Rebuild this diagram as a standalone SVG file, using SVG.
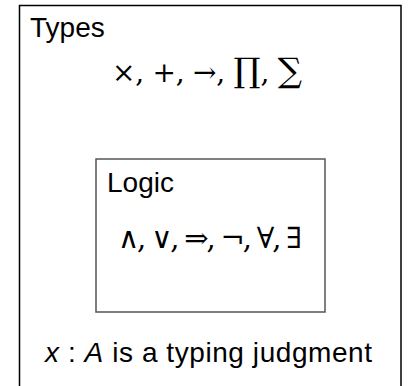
<svg xmlns="http://www.w3.org/2000/svg" width="410" height="386" viewBox="0 0 410 386">
<style>
.box{fill:#fff;stroke:#000;stroke-width:1.5}
.inner{fill:#fff;stroke:#555;stroke-width:1.5}
.lbl{font-family:"Liberation Sans",Arial,sans-serif;font-size:28px;fill:#000}
.mser{font-family:"DejaVu Serif","Liberation Serif",serif;font-size:28px;fill:#000}
.big{font-size:34px}
.msan{font-family:"DejaVu Serif","Liberation Serif",serif;font-size:29px;fill:#000}
</style>
<rect width="410" height="386" fill="#fff"/>
<g id="types">
<rect class="box" x="19.5" y="5.5" width="381.5" height="390"/>
<text class="lbl" x="30" y="37">Types</text>
<text class="mser" x="112" y="82" textLength="190" lengthAdjust="spacing">×, +, →, <tspan class="big">∏</tspan>, <tspan class="big">∑</tspan></text>
<text class="lbl" x="45" y="362" textLength="327" lengthAdjust="spacing"><tspan font-style="italic">x</tspan> : <tspan font-style="italic">A</tspan> is a typing judgment</text>
</g>
<g id="logic">
<rect class="inner" x="96" y="159" width="229" height="153"/>
<text class="lbl" x="107" y="192">Logic</text>
<text class="msan" x="118" y="248" textLength="184" lengthAdjust="spacing">∧, ∨, ⇒, ¬, ∀, ∃</text>
</g>
<g id="connectors"/>
</svg>
